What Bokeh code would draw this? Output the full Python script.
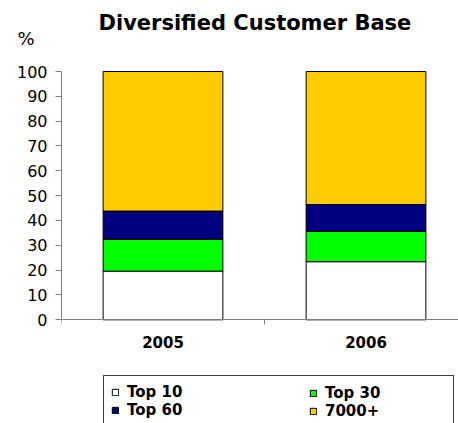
from bokeh.plotting import figure
from bokeh.models import (Range1d, FixedTicker, Title, Legend, LegendItem,
                          ColumnDataSource, LinearAxis)
from bokeh.core.properties import value
from bokeh.embed import file_html
from bokeh.resources import INLINE

# ---- data ----
years = ["2005", "2006"]
top10 = [19.6, 23.4]
top30 = [12.8, 12.2]
top60 = [11.4, 10.8]
rest = [56.2, 53.6]
series_names = ["Top 10", "Top 30", "Top 60", "7000+"]
series_colors = ["#FFFFFF", "#00FF00", "#000080", "#FFCC00"]
y_ticks = [0, 10, 20, 30, 40, 50, 60, 70, 80, 90, 100]
title_text = "Diversified Customer Base"
unit_text = "%"

FONT = "DejaVu Sans"
AXIS_GRAY = "#808080"

xs = [i + 0.5 for i in range(len(years))]
src = ColumnDataSource(dict(x=xs, year=years, top10=top10, top30=top30,
                            top60=top60, rest=rest))
keys = ["top10", "top30", "top60", "rest"]

# frame geometry (pixels): value 100 at y=71, value 0 at y=319.3
PX_PER_UNIT = (319.3 - 71) / 100
FRAME_TOP, FRAME_BOTTOM = 48, 423
y_end = 100 + (71 - FRAME_TOP) / PX_PER_UNIT
y_start = -(FRAME_BOTTOM - 319.3) / PX_PER_UNIT

p = figure(width=458, height=423, output_backend="svg", toolbar_location=None,
           title=None, x_axis_location=None,
           x_range=Range1d(0, 397 / 203), y_range=Range1d(y_start, y_end),
           min_border_left=61, min_border_right=0, min_border_top=FRAME_TOP,
           min_border_bottom=0)
p.outline_line_color = None
p.background_fill_color = "white"
p.border_fill_color = "white"
p.xgrid.visible = False
p.ygrid.visible = False

renderers = p.vbar_stack(keys, x="x", width=0.59, source=src,
                         fill_color=series_colors, line_color="black",
                         line_width=1)

# y axis (line only from 0 to 100)
ya = p.yaxis[0]
ya.ticker = FixedTicker(ticks=y_ticks)
ya.bounds = (y_ticks[0], y_ticks[-1])
ya.axis_line_color = AXIS_GRAY
ya.major_tick_line_color = AXIS_GRAY
ya.major_tick_out = 6
ya.major_tick_in = 0
ya.minor_tick_line_color = None
ya.major_label_text_font = FONT
ya.major_label_text_font_size = "16px"
ya.major_label_text_color = "black"
ya.major_label_standoff = 8

# unit label (nearest to frame) and main title
p.add_layout(Title(text=unit_text, align="left", offset=-44, standoff=0,
                   text_font=FONT, text_font_size="18px",
                   text_font_style="normal", text_color="black"), "above")
p.add_layout(Title(text=title_text, align="left", offset=37, standoff=-19,
                   text_font=FONT, text_font_size="21px",
                   text_font_style="bold", text_color="black"), "above")

# x axis drawn at value 0: tick marks at category boundaries pointing down
xa = LinearAxis(fixed_location=0,
                ticker=FixedTicker(ticks=[],
                                   minor_ticks=list(range(len(years) + 1))),
                axis_line_color=AXIS_GRAY,
                major_tick_line_color=None, major_tick_out=0, major_tick_in=0,
                minor_tick_line_color=AXIS_GRAY, minor_tick_out=0,
                minor_tick_in=5,
                major_label_text_font_size="0px", major_label_standoff=0)
p.add_layout(xa, "above")

# category labels under the axis
p.text(x="x", y=0, text="year", source=src, y_offset=16,
       text_font=value(FONT), text_font_style="bold",
       text_font_size="15px", text_color="black",
       text_align="center", text_baseline="top")

# legend: two columns built as two legends sharing one box
PAD = 7
LEG_H = 2 * 18 + 2 * PAD
LEG_Y = FRAME_BOTTOM - 377 - LEG_H


def make_legend(idxs, vx, bordered):
    items = [LegendItem(label=series_names[i], renderers=[renderers[i]])
             for i in idxs]
    lg = Legend(items=items, location=(vx, LEG_Y), orientation="vertical",
                glyph_width=8, glyph_height=8, label_standoff=8,
                label_height=17, spacing=0, padding=PAD, margin=0,
                label_text_font=FONT, label_text_font_style="bold",
                label_text_font_size="15px", label_text_color="black",
                background_fill_color="white",
                background_fill_alpha=1.0 if bordered else 0.0,
                border_line_color="#404040",
                border_line_alpha=1.0 if bordered else 0.0,
                border_line_width=1)
    if bordered:
        lg.label_width = 349 - 2 * PAD - 8 - 8
    return lg


p.add_layout(make_legend([0, 2], 42, True), "center")
p.add_layout(make_legend([1, 3], 309 - 61 - PAD, False), "center")

open("out.html", "w").write(file_html(p, INLINE))
